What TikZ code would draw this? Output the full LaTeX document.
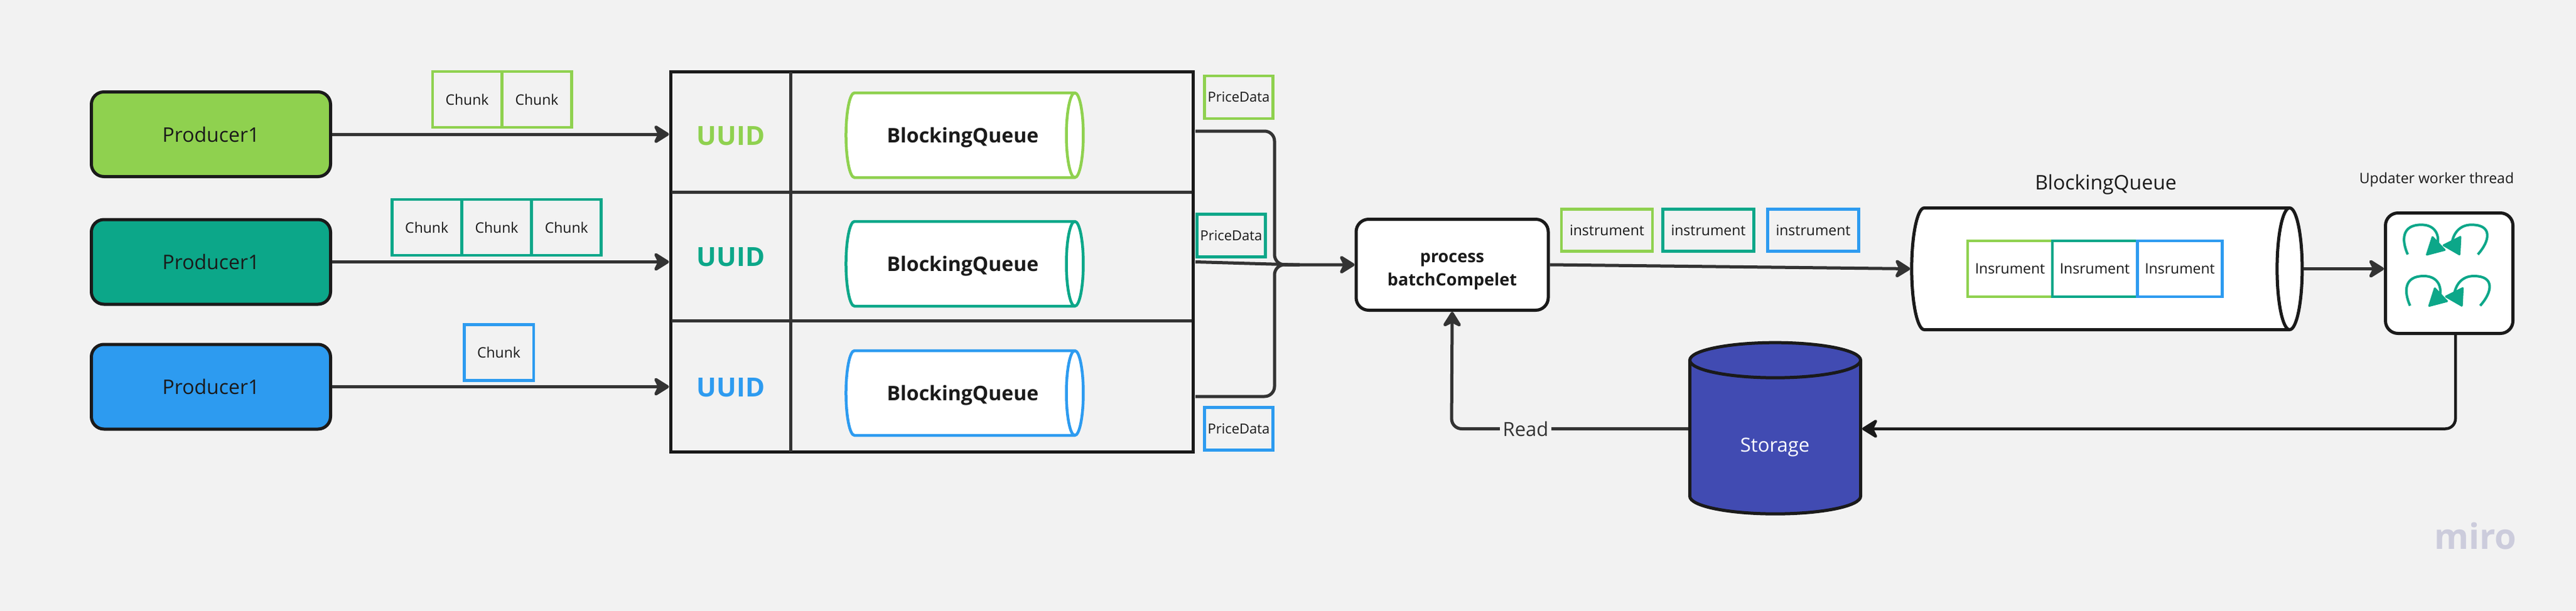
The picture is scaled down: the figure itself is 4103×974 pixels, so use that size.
\documentclass[tikz,border=0pt]{standalone}
\usepackage{fontspec}
\setmainfont{Open Sans}
\usetikzlibrary{arrows.meta,shapes.geometric}

\definecolor{pagebg}{HTML}{F2F2F2}
\definecolor{leaf}{HTML}{8FD14F}
\definecolor{teal1}{HTML}{0CA789}
\definecolor{sky}{HTML}{2D9BF0}
\definecolor{navy}{HTML}{414BB2}
\definecolor{ink}{HTML}{1A1A1A}
\definecolor{wire}{HTML}{333333}
\definecolor{logo}{HTML}{CCCCDC}
\newcommand{\pxfont}[1]{\fontsize{#1}{#1}\selectfont}

\tikzset{
    producer/.style={draw=ink,line width=5pt,rounded corners=20pt,minimum width=381pt,minimum height=135pt,font=\pxfont{32},text=ink},
    chunkbox/.style={draw=#1,line width=4.5pt,minimum width=110.5pt,minimum height=89pt,font=\pxfont{23},text=ink},
    pricebox/.style={draw=#1,line width=4.5pt,minimum width=109pt,minimum height=68pt,font=\pxfont{22},text=ink},
    instrbox/.style={draw=#1,line width=4.5pt,minimum width=145pt,minimum height=67pt,font=\pxfont{23},text=ink},
    insrbox/.style={draw=#1,fill=white,line width=4.5pt,minimum width=135pt,minimum height=89pt,font=\pxfont{23},text=ink},
    queue/.style={cylinder,draw=#1,fill=white,line width=4.5pt,aspect=0.88,text height=24pt,text depth=0pt,minimum height=378pt,minimum width=135pt,font=\pxfont{32}\bfseries,text=ink},
    uuid/.style={font=\pxfont{42}\bfseries,text=#1},
    wired/.style={draw=wire,line width=5pt},
    flow/.style={wired,-{Stealth[length=29pt,width=36pt,inset=9pt,round]}},
}

\begin{document}
\begin{tikzpicture}[x=1pt,y=-1pt]
    % Page
    \fill[pagebg] (0,0) rectangle (4103,974);
    \useasboundingbox (0,0) rectangle (4103,974);

    % Producers
    \node[producer,fill=leaf] (prodA) at (336,214) {Producer1};
    \node[producer,fill=teal1] (prodB) at (336,417.5) {Producer1};
    \node[producer,fill=sky] (prodC) at (336,616.5) {Producer1};

    % Chunks
    \node[chunkbox=leaf] (chunkA) at (744,158.5) {Chunk};
    \node[chunkbox=leaf] (chunkB) at (855,158.5) {Chunk};
    \node[chunkbox=teal1] (chunkC) at (679.7,362.5) {Chunk};
    \node[chunkbox=teal1] (chunkD) at (791,362.5) {Chunk};
    \node[chunkbox=teal1] (chunkE) at (902.3,362.5) {Chunk};
    \node[chunkbox=sky] (chunkF) at (794.5,562) {Chunk};

    % Table of queues
    \node[draw=ink,line width=5pt,minimum width=832pt,minimum height=606pt] (table) at (1484,417.5) {};
    \draw[wired] (1259,115) -- (1259,720);
    \draw[wired] (1070,306.5) -- (1898,306.5);
    \draw[wired] (1070,511) -- (1898,511);

    \node[uuid=leaf] (uuidA) at (1164,217) {UUID};
    \node[uuid=teal1] (uuidB) at (1164,410) {UUID};
    \node[uuid=sky] (uuidC) at (1164,618) {UUID};

    \node[queue=leaf] (queueA) at (1526.5,215.5) {\hspace*{14pt}BlockingQueue};
    \node[queue=teal1] (queueB) at (1526.5,420.5) {\hspace*{14pt}BlockingQueue};
    \node[queue=sky] (queueC) at (1526.5,626.5) {\hspace*{14pt}BlockingQueue};

    % Producer arrows
    \draw[flow] (prodA) -- (prodA -| table.west);
    \draw[flow] (prodB) -- (prodB -| table.west);
    \draw[flow] (prodC) -- (prodC -| table.west);

    % Price data
    \node[pricebox=leaf] (priceA) at (1973,155) {PriceData};
    \node[pricebox=teal1] (priceB) at (1961,375.5) {PriceData};
    \node[pricebox=sky] (priceC) at (1973,683.5) {PriceData};

    % Batch step
    \node[draw=ink,fill=white,line width=5pt,rounded corners=20pt,minimum width=306pt,minimum height=145pt,align=center,font=\fontsize{27}{37.5}\selectfont\bfseries,text=ink] (batch) at (2313,422) {\rule{0pt}{36pt}process\\batchCompelet};

    \coordinate (outA) at (1904,209);
    \coordinate (outB) at (1904,417.5);
    \coordinate (outC) at (1904,632);
    \draw[wired,rounded corners=16pt] (outA) -- (2030,209) -- (2030,422) -- (2070,422);
    \draw[wired,rounded corners=16pt] (outC) -- (2030,632) -- (2030,422) -- (2070,422);
    \draw[flow] (outB) -- (2060,422) -- (batch.west);

    % Instruments
    \node[instrbox=leaf] (instrA) at (2559.5,367) {instrument};
    \node[instrbox=teal1] (instrB) at (2721,367) {instrument};
    \node[instrbox=sky] (instrC) at (2888,367) {instrument};

    % Second queue
    \node[cylinder,draw=ink,fill=white,line width=5pt,aspect=6,minimum height=622pt,minimum width=194pt] (bigq) at (3342,428.5) {};
    \node[font=\pxfont{32},text=ink] (bigqname) at (3354,294) {BlockingQueue};
    \node[insrbox=leaf] (insrA) at (3201.5,428.5) {Insrument};
    \node[insrbox=teal1] (insrB) at (3336.5,428.5) {Insrument};
    \node[insrbox=sky] (insrC) at (3472,428.5) {Insrument};
    \draw[flow] (batch.east) -- (bigq.west);

    % Worker
    \node[draw=ink,fill=white,line width=5pt,rounded corners=20pt,minimum width=203pt,minimum height=192pt] (worker) at (3901,435.5) {};
    \node[font=\pxfont{23},text=ink] (workername) at (3881,287) {Updater worker thread};
    \draw[flow] (bigq.east) -- (bigq.east -| worker.west);

    % Loops
    \foreach \sx/\sy in {0/0,3.7/81.7} {
        \begin{scope}[shift={(3750+\sx,250+\sy)},x=0.3333pt,y=-0.3333pt]
            \draw[teal1,line width=4pt] (255,467) .. controls (225,400) and (225,325) .. (320,325) .. controls (390,325) and (410,380) .. (395,430);
            \draw[teal1,line width=4pt] (590,467) .. controls (650,400) and (660,325) .. (560,325) .. controls (500,325) and (470,370) .. (465,420);
            \fill[teal1,draw=teal1,line width=1pt,rounded corners=1.5pt] (372,378) -- (342,472) -- (437,447) -- cycle;
            \fill[teal1,draw=teal1,line width=1pt,rounded corners=1.5pt] (510,378) -- (505,472) -- (420,423) -- cycle;
        \end{scope}
    }

    % Storage
    \node[cylinder,shape border rotate=90,draw=ink,fill=navy,line width=5pt,aspect=8.4,minimum height=273pt,minimum width=272pt] (storage) at (2827.5,701) {};
    \node[font=\pxfont{31},text=white] (storagename) at (2827,713) {Storage};
    \coordinate (storeIn) at (2966,683.5);
    \coordinate (storeOut) at (2689,683.5);
    \draw[draw=ink,line width=4.5pt,-{Stealth[length=29pt,width=36pt,inset=9pt,round]},rounded corners=16pt] (worker.south -| 3911,0) -- (3911,683.5) -- (storeIn);
    \draw[flow,rounded corners=16pt] (storeOut) -- (2312,683.5) -- (batch.south);
    \node[fill=pagebg,inner sep=5pt,font=\pxfont{31},text=wire] (readlabel) at (2430,684) {Read};

    % Logo
    \node[font=\pxfont{56}\bfseries,text=logo] (miro) at (3943,854) {miro};
\end{tikzpicture}
\end{document}
